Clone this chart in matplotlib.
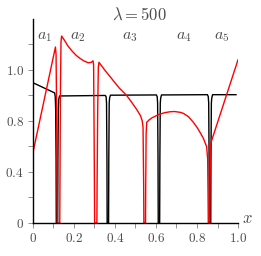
import numpy as np
import matplotlib
matplotlib.use('Agg')
import matplotlib.pyplot as plt

plt.rcParams['mathtext.fontset'] = 'cm'
plt.rcParams['font.family'] = ['DejaVu Serif']

# black curve
black_x = [0, 0.106, 0.109, 0.111, 0.113, 0.114, 0.121, 0.122, 0.124, 0.126, 0.130,
           0.353, 0.357, 0.359, 0.361, 0.362, 0.369, 0.370, 0.372, 0.374, 0.378,
           0.602, 0.606, 0.608, 0.610, 0.611, 0.618, 0.619, 0.621, 0.623, 0.627,
           0.851, 0.855, 0.857, 0.859, 0.860, 0.867, 0.868, 0.870, 0.872, 0.876, 0.99]
black_y = [0.95, 0.91, 0.895, 0.85, 0.5, 0, 0, 0.5, 0.85, 0.885, 0.898,
           0.900, 0.895, 0.87, 0.5, 0, 0, 0.5, 0.87, 0.89, 0.901,
           0.902, 0.895, 0.87, 0.5, 0, 0, 0.5, 0.87, 0.89, 0.902,
           0.903, 0.895, 0.87, 0.5, 0, 0, 0.5, 0.87, 0.89, 0.903, 0.903]

# red curve
red_x = [0, 0.11, 0.113, 0.116, 0.118, 0.119, 0.131, 0.132, 0.134, 0.137, 0.14,
         0.155, 0.17, 0.19, 0.21, 0.23, 0.25, 0.27, 0.285, 0.293,
         0.296, 0.298, 0.300, 0.301, 0.312, 0.313, 0.316, 0.319, 0.322,
         0.35, 0.39, 0.42, 0.457, 0.48, 0.506, 0.525, 0.533, 0.537, 0.540, 0.541,
         0.549, 0.550, 0.552, 0.555, 0.565, 0.58, 0.61, 0.64, 0.668, 0.69, 0.717,
         0.733, 0.758, 0.782, 0.80, 0.815, 0.831, 0.847, 0.852, 0.854, 0.855,
         0.862, 0.863, 0.866, 0.868, 1.0]
red_y = [0.55, 1.09, 1.06, 0.8, 0.3, 0, 0, 0.3, 0.9, 1.11, 1.133,
         1.115, 1.095, 1.075, 1.058, 1.045, 1.035, 1.028, 1.03, 1.036,
         1.02, 0.8, 0.3, 0, 0, 0.3, 0.85, 1.01, 1.03,
         1.0, 0.96, 0.93, 0.90, 0.875, 0.845, 0.82, 0.80, 0.75, 0.3, 0,
         0, 0.3, 0.7, 0.79, 0.803, 0.812, 0.824, 0.832, 0.836, 0.837, 0.834,
         0.83, 0.817, 0.79, 0.75, 0.71, 0.664, 0.598, 0.5, 0.2, 0,
         0, 0.3, 0.62, 0.63, 1.04]

labels = [r'$a_1$', r'$a_2$', r'$a_3$', r'$a_4$', r'$a_5$']
label_x = [0.058, 0.22, 0.473, 0.737, 0.92]
label_y = 1.137


def fwd(y):
    y = np.asarray(y, dtype=float)
    return np.where(y < 0.8, y, 0.8 + 2 * (y - 0.8))


def inv(u):
    u = np.asarray(u, dtype=float)
    return np.where(u < 0.8, u, 0.8 + (u - 0.8) / 2)


grey = '0.3'
fig = plt.figure(figsize=(2.61, 2.56), dpi=100)
ax = fig.add_axes([0.126, 0.129, 0.786, 0.797])
ax.set_yscale('function', functions=(fwd, inv))

ax.plot(black_x, black_y, color='black', lw=1.0)
ax.plot(red_x, red_y, color='red', lw=1.0)

ax.set_xlim(0, 1)
ax.set_ylim(0, 1.2)
for s in ['top', 'right']:
    ax.spines[s].set_visible(False)
ax.spines['left'].set_linewidth(1.0)
ax.spines['bottom'].set_linewidth(1.0)

ax.set_xticks([0, 0.2, 0.4, 0.6, 0.8, 1.0])
ax.set_xticklabels(['$0$', '$0.2$', '$0.4$', '$0.6$', '$0.8$', '$1.0$'])
ax.set_xticks([0.1, 0.3, 0.5, 0.7, 0.9], minor=True)
ax.set_yticks([0, 0.4, 0.8, 1.0])
ax.set_yticklabels(['$0$', '$0.4$', '$0.8$', '$1.0$'])
ax.set_yticks([0.2, 0.6, 0.9, 1.1], minor=True)
ax.yaxis.set_minor_formatter(matplotlib.ticker.NullFormatter())
ax.tick_params(which='both', direction='out', length=3.5, width=0.6,
               color='0.5', labelcolor=grey, labelsize=9.5, pad=3)

for t, xx in zip(labels, label_x):
    ax.text(xx, label_y, t, ha='center', va='center', fontsize=11.5, color=grey)

ax.text(1.045, 0.02, r'$x$', transform=ax.get_xaxis_transform(),
        ha='center', va='center', fontsize=12, color=grey, clip_on=False)
fig.text(0.536, 0.941, r'$\lambda = 500$', ha='center', va='center',
         fontsize=12, color=grey)

fig.savefig('out.png', dpi=100)
